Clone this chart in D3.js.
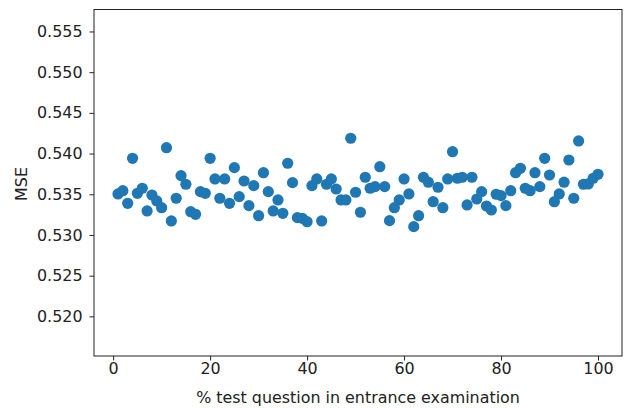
<!DOCTYPE html>
<html><head><meta charset="utf-8">
<script src="https://cdn.jsdelivr.net/npm/d3@7"></script>
<style>
html,body{margin:0;padding:0;background:#fff;}
svg text{font-family:"DejaVu Sans",sans-serif;}
</style></head>
<body>
<svg id="chart" width="624" height="408"></svg>
<script>
const xValues = d3.range(1, 101);
const mseValues = [
0.53504,0.53544,0.53389,0.53942,0.53512,0.53574,0.53295,0.53491,0.53418,0.53335,
0.54072,0.53172,0.53451,0.53729,0.53623,0.53286,0.53254,0.53532,0.53512,0.53942,
0.53688,0.53451,0.53688,0.53389,0.53827,0.53471,0.53663,0.53360,0.53606,0.53237,
0.53765,0.53532,0.53295,0.53430,0.53266,0.53881,0.53643,0.53213,0.53205,0.53163,
0.53606,0.53688,0.53172,0.53623,0.53688,0.53565,0.53430,0.53430,0.54188,0.53525,
0.53279,0.53709,0.53574,0.53594,0.53839,0.53594,0.53176,0.53335,0.53430,0.53688,
0.53504,0.53102,0.53237,0.53709,0.53648,0.53409,0.53586,0.53335,0.53688,0.54023,
0.53697,0.53709,0.53369,0.53709,0.53442,0.53532,0.53356,0.53307,0.53500,0.53483,
0.53360,0.53544,0.53765,0.53819,0.53574,0.53544,0.53765,0.53594,0.53942,0.53737,
0.53409,0.53504,0.53648,0.53921,0.53451,0.54155,0.53623,0.53627,0.53697,0.53746
];
const xTicks = [0, 20, 40, 60, 80, 100];
const yTicks = [0.520, 0.525, 0.530, 0.535, 0.540, 0.545, 0.550, 0.555];
const xLabel = "% test question in entrance examination";
const yLabel = "MSE";

const svg = d3.select("#chart");
const L = 94, R = 622, T = 9.5, B = 356;
const x = d3.scaleLinear().domain([-3.95, 104.95]).range([L, R]);
const y = d3.scaleLinear().domain([0.51513, 0.5577]).range([B, T]);

const fs = "15.9px";
const txt = "#222";
const xAxis = svg.append("g").attr("transform", `translate(0,${B})`)
  .call(d3.axisBottom(x).tickValues(xTicks).tickFormat(d3.format("d")).tickSizeOuter(0).tickSize(4.5).tickPadding(1.8));
const yAxis = svg.append("g").attr("transform", `translate(${L},0)`)
  .call(d3.axisLeft(y).tickValues(yTicks).tickFormat(d3.format(".3f")).tickSizeOuter(0).tickSize(4.5).tickPadding(7));
[xAxis, yAxis].forEach(g => {
  g.select(".domain").remove();
  g.selectAll("text").style("font-size", fs).attr("fill", txt).style("font-family", '"DejaVu Sans",sans-serif');
  g.selectAll("line").attr("stroke", "#222").attr("stroke-width", 1);
});

svg.append("g").selectAll("circle").data(xValues).join("circle")
  .attr("cx", (d) => x(d))
  .attr("cy", (d, i) => y(mseValues[i]))
  .attr("r", 5.6)
  .attr("fill", "#1f77b4");

svg.append("rect").attr("x", L).attr("y", T).attr("width", R - L).attr("height", B - T)
  .attr("fill", "none").attr("stroke", "#222").attr("stroke-width", 1);

svg.append("text").attr("x", (L + R) / 2).attr("y", 403)
  .attr("text-anchor", "middle").style("font-size", fs).attr("fill", txt).text(xLabel);
svg.append("text").attr("transform", `translate(26.5,184) rotate(-90)`)
  .attr("text-anchor", "middle").style("font-size", fs).attr("fill", txt).text(yLabel);
</script>
</body></html>
